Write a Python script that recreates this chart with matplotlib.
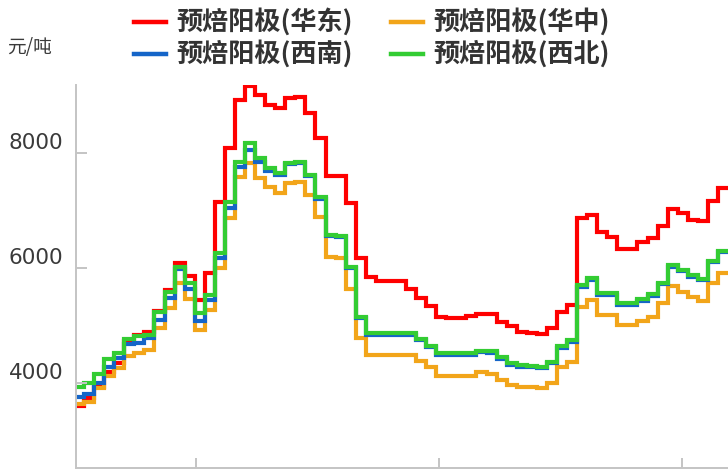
import numpy as np
import matplotlib
matplotlib.use("Agg")
import matplotlib.pyplot as plt
from matplotlib.lines import Line2D

plt.rcParams['font.family'] = ['Noto Sans CJK SC', 'DejaVu Sans']

labels = ["预焙阳极(华东)", "预焙阳极(华中)", "预焙阳极(西南)", "预焙阳极(西北)"]
colors = ["#FF0000", "#F2A51A", "#1565C8", "#33CC33"]
unit_label = "元/吨"

east = [3600, 3740, 3940, 4200, 4350, 4740, 4840, 4900, 5260, 5630,
        6100, 5870, 5450, 5910, 7160, 8090, 8930, 9175, 9010, 8840,
        8780, 8955, 8985, 8695, 8260, 7600, 7600, 7130, 6180, 5855,
        5785, 5785, 5785, 5640, 5480, 5340, 5160, 5130, 5130, 5170,
        5205, 5205, 5070, 5000, 4900, 4880, 4860, 4955, 5245, 5360,
        6880, 6920, 6640, 6550, 6335, 6335, 6455, 6520, 6735, 7035,
        6955, 6845, 6815, 7175, 7390]

central = [3640, 3680, 3913, 4127, 4260, 4475, 4520, 4580, 4956, 5304,
           5739, 5461, 4927, 5275, 6000, 6870, 7593, 7826, 7565, 7419,
           7304, 7478, 7506, 7275, 6897, 6201, 6174, 5645, 4783, 4492,
           4492, 4492, 4492, 4492, 4390, 4275, 4135, 4135, 4135, 4135,
           4190, 4170, 4058, 3970, 3935, 3935, 3920, 4000, 4280, 4376,
           5320, 5455, 5195, 5195, 5014, 5014, 5080, 5159, 5395, 5692,
           5594, 5495, 5425, 5739, 5924]

southwest = [3767, 3814, 4010, 4290, 4435, 4678, 4695, 4782, 5100, 5478,
             5980, 5635, 5083, 5450, 6174, 7043, 7756, 8050, 7854, 7700,
             7630, 7815, 7830, 7600, 7210, 6555, 6540, 6000, 5130, 4845,
             4845, 4845, 4845, 4845, 4750, 4625, 4500, 4500, 4500, 4500,
             4540, 4530, 4430, 4325, 4290, 4275, 4265, 4350, 4620, 4720,
             5680, 5800, 5540, 5540, 5365, 5365, 5440, 5520, 5725, 6025,
             5945, 5850, 5790, 6105, 6275]

northwest = [3940, 4000, 4160, 4420, 4520, 4765, 4820, 4840, 5235, 5594,
             6028, 5739, 5217, 5536, 6271, 7158, 7854, 8180, 7913, 7739,
             7652, 7837, 7854, 7622, 7234, 6579, 6561, 6028, 5159, 4870,
             4870, 4870, 4870, 4870, 4775, 4650, 4522, 4522, 4522, 4522,
             4565, 4555, 4452, 4350, 4318, 4300, 4289, 4376, 4650, 4745,
             5710, 5826, 5565, 5565, 5391, 5391, 5461, 5545, 5750, 6050,
             5970, 5875, 5815, 6130, 6300]

series = [east, central, southwest, northwest]
y_ticks = [4000, 6000, 8000]

W, H = 728, 470
fig = plt.figure(figsize=(W / 100, H / 100), dpi=100)
ax = fig.add_axes([76 / W, 2 / H, 1 - 76 / W, (468 - 85) / H])

for vals, c in zip(series, colors):
    edges = np.arange(len(vals) + 1)
    ax.stairs(vals, edges, color=c, linewidth=3.0, baseline=None)

ax.set_xlim(0.2, 65.0)
ax.set_ylim(2527, 9188)

ax.set_yticks(y_ticks)
ax.set_yticklabels([str(t) for t in y_ticks])
ax.set_xticks([12.13, 36.28, 60.44])
ax.set_xticklabels([])

for s in ['top', 'right']:
    ax.spines[s].set_visible(False)
for s in ['left', 'bottom']:
    ax.spines[s].set_color('#C4C4C4')
    ax.spines[s].set_linewidth(1.4)

ax.tick_params(axis='both', direction='in', color='#C4C4C4', width=1.4)
ax.tick_params(axis='y', length=8, pad=9, labelsize=15.5, labelcolor='#3A3A3A')
ax.tick_params(axis='x', length=7)
for lbl in ax.get_yticklabels():
    lbl.set_fontfamily('DejaVu Sans')
    lbl.set_verticalalignment('bottom')

# legend (two columns)
pos = [(134, 22), (391, 22), (134, 54), (391, 54)]
for (px, py), lab, c in zip(pos, labels, colors):
    fig.add_artist(Line2D([px / W, (px + 32) / W], [1 - py / H, 1 - py / H],
                          transform=fig.transFigure, color=c, linewidth=3.2))
    fig.text((px + 42) / W, 1 - py / H, lab, fontsize=18.8, color='#333333',
             va='center', ha='left', fontweight='bold')

fig.text(7 / W, 1 - 48 / H, unit_label, fontsize=13.5, color='#3A3A3A',
         va='center', ha='left')

fig.savefig("out.png", dpi=100)
